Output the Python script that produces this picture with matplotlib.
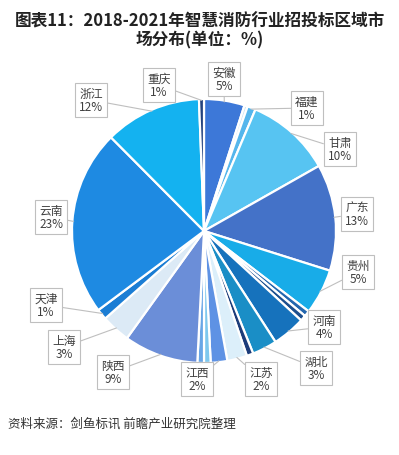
import numpy as np
import matplotlib
matplotlib.use("Agg")
import matplotlib.pyplot as plt

plt.rcParams['font.family'] = ['Noto Sans CJK SC', 'DejaVu Sans']

# slices clockwise from 12 o'clock
regions = ['安徽', '', '福建', '甘肃', '广东', '贵州', '', '', '河南', '湖北', '',
           '江苏', '江西', '', '', '陕西', '上海', '天津', '云南', '浙江', '重庆']
shares = [4.9, 0.4, 1.0, 10.3, 12.9, 5.5, 0.7, 0.7, 4.0, 3.0, 0.8,
          2.4, 2.0, 0.8, 0.8, 9.0, 3.5, 1.3, 22.5, 11.7, 0.6]
pct_text = ['5%', '', '1%', '10%', '13%', '5%', '', '', '4%', '3%', '',
            '2%', '2%', '', '', '9%', '3%', '1%', '23%', '12%', '1%']
colors = ['#3D78D8', '#CDE7F6', '#55B6EC', '#57C4F2', '#4472C8', '#18ACE8',
          '#2366AE', '#1C4F8E', '#1672BC', '#1A8EC6', '#1B3C7A', '#DCEFFA',
          '#5E92E4', '#7EC8EE', '#68A6E6', '#6B8ED8', '#DCEAF6', '#1B7DD4',
          '#1E8AE2', '#14B2F0', '#22427E']

# label box centres in pixels (from top-left)
box_pos = {
    '安徽': (224, 80), '福建': (307, 109), '甘肃': (340, 150), '广东': (357, 215),
    '贵州': (358, 273), '河南': (324, 328), '湖北': (316, 369), '江苏': (261, 380),
    '江西': (197, 380), '陕西': (113, 373), '上海': (64, 348), '天津': (46, 306),
    '云南': (51, 218), '浙江': (91, 101), '重庆': (159, 86),
}

W, H = 399, 456
fig = plt.figure(figsize=(W / 100, H / 100), dpi=100)
cx, cy, r = 204, 232, 132
ax = fig.add_axes([(cx - r) / W, (H - cy - r) / H, 2 * r / W, 2 * r / H])

wedges, _ = ax.pie(shares, colors=colors, startangle=90, counterclock=False,
                   wedgeprops=dict(edgecolor='white', linewidth=1.6))
ax.set_xlim(-1, 1)
ax.set_ylim(-1, 1)
ax.set_aspect('equal')
ax.axis('off')

for w, name, pct in zip(wedges, regions, pct_text):
    if not name:
        continue
    mid = np.deg2rad((w.theta1 + w.theta2) / 2)
    px, py = box_pos[name]
    ax.annotate(f'{name}\n{pct}', xy=(0.99 * np.cos(mid), 0.99 * np.sin(mid)),
                xytext=(px, H - py), textcoords='figure pixels',
                ha='center', va='center', fontsize=8.5, color='#404040',
                linespacing=1.05,
                bbox=dict(boxstyle='square,pad=0.35', fc='white', ec='#BFBFBF', lw=0.8),
                arrowprops=dict(arrowstyle='-', color='#BFBFBF', lw=0.8,
                                shrinkA=0, shrinkB=0))

fig.text(0.5, 1 - 12 / H, '图表11：2018-2021年智慧消防行业招投标区域市\n场分布(单位：%)',
         ha='center', va='top', fontsize=12, fontweight='bold', color='#222222',
         linespacing=1.12)
fig.text(8 / W, 1 - 424 / H, '资料来源：剑鱼标讯 前瞻产业研究院整理',
         ha='left', va='center', fontsize=9, color='#333333')

fig.savefig('out.png', dpi=100, facecolor='white')
